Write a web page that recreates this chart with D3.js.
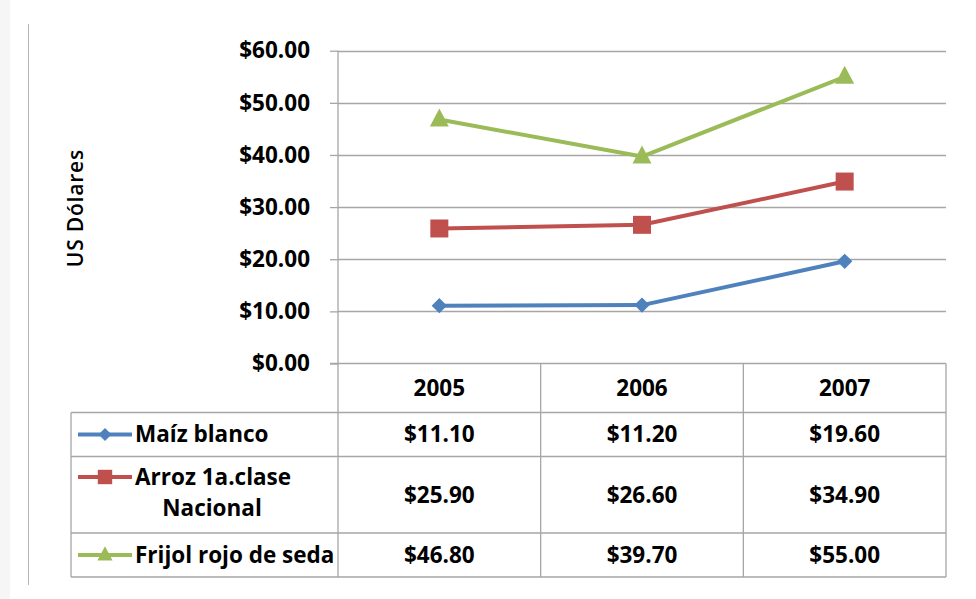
<!DOCTYPE html>
<html>
<head>
<meta charset="utf-8">
<script src="https://cdn.jsdelivr.net/npm/d3@7"></script>
<style>
  html, body { margin: 0; padding: 0; background: #fff; }
  svg { display: block; }
</style>
</head>
<body>
<svg id="chart" width="976" height="599"></svg>
<script>
// chart data
const years = ['2005', '2006', '2007'];
const seriesNames = [['Maíz blanco'], ['Arroz 1a.clase', 'Nacional'], ['Frijol rojo de seda']];
const maiz = [11.10, 11.20, 19.60];
const arroz = [25.90, 26.60, 34.90];
const frijol = [46.80, 39.70, 55.00];
const yTicks = [0, 10, 20, 30, 40, 50, 60];
const yTitle = 'US Dólares';

const FONT = '"Open Sans", "DejaVu Sans", sans-serif';
const FS = '22.5px';
const GRID = '#a6a6a6';
const series = [
  { names: seriesNames[0], values: maiz, color: '#4f81bd', shape: 'diamond' },
  { names: seriesNames[1], values: arroz, color: '#c0504d', shape: 'square' },
  { names: seriesNames[2], values: frijol, color: '#9bbb59', shape: 'triangle' },
];

const svg = d3.select('#chart');
const fmt = v => '$' + d3.format('.2f')(v);
const boldText = sel => sel.style('font-family', FONT).style('font-size', FS)
  .style('font-weight', 700).style('fill', '#000');

// plot geometry
const X0 = 338, X1 = 946, Y_TOP = 50.7, Y_BOT = 363.5;
const TABLE_LEFT = 71;
const rowEdges = [363.5, 412.5, 456.5, 533, 577];

const x = d3.scaleBand().domain(years).range([X0, X1]);
const y = d3.scaleLinear().domain([0, 60]).range([Y_BOT, Y_TOP]);

// page frame: faint strip and left rule
svg.append('rect').attr('x', 0).attr('y', 0).attr('width', 10).attr('height', 599)
  .style('fill', '#f6f6f6');
svg.append('line').attr('x1', 28.5).attr('x2', 28.5).attr('y1', 24).attr('y2', 585)
  .style('stroke', '#b4b4b4').style('stroke-width', 1);

// gridlines + y axis
const yAxis = d3.axisLeft(y).tickValues(yTicks).tickFormat(fmt).tickSize(8).tickPadding(20);
const gy = svg.append('g').attr('transform', `translate(${X0},0)`).call(yAxis);
gy.select('.domain').remove();
gy.selectAll('.tick line').style('stroke', GRID).style('stroke-width', 1.3);
gy.selectAll('.tick text').call(boldText);
svg.append('g').selectAll('line').data(yTicks.filter(t => t > 0)).join('line')
  .attr('x1', X0).attr('x2', X1)
  .attr('y1', d => Math.round(y(d)) + 0.5).attr('y2', d => Math.round(y(d)) + 0.5)
  .style('stroke', GRID).style('stroke-width', 1.3);

// axis title
svg.append('text')
  .attr('transform', `translate(83,${(Y_TOP + Y_BOT) / 2 + 1}) rotate(-90)`)
  .attr('text-anchor', 'middle')
  .style('font-family', FONT).style('font-size', '21px').style('font-weight', 600)
  .style('letter-spacing', '0.8px')
  .style('fill', '#000')
  .text(yTitle);

// data table grid
const tg = svg.append('g').style('stroke', GRID).style('stroke-width', 1.3);
tg.append('line').attr('x1', X0 - 8).attr('x2', X1).attr('y1', rowEdges[0]).attr('y2', rowEdges[0]);
rowEdges.slice(1).forEach(r => {
  tg.append('line').attr('x1', TABLE_LEFT).attr('x2', X1).attr('y1', r).attr('y2', r);
});
[X0, ...years.map(d => x(d) + x.bandwidth())].forEach(cx => {
  tg.append('line').attr('x1', cx).attr('x2', cx)
    .attr('y1', cx === X0 ? Y_TOP : rowEdges[0]).attr('y2', rowEdges[4]);
});
tg.append('line').attr('x1', TABLE_LEFT).attr('x2', TABLE_LEFT).attr('y1', rowEdges[1]).attr('y2', rowEdges[4]);

// header row (years)
svg.append('g').selectAll('text').data(years).join('text')
  .attr('x', d => x(d) + x.bandwidth() / 2)
  .attr('y', (rowEdges[0] + rowEdges[1]) / 2)
  .attr('text-anchor', 'middle').attr('dy', '0.35em')
  .call(boldText)
  .text(d => d);

// marker path helper
function markerPath(shape) {
  if (shape === 'diamond') return d3.symbol(d3.symbolDiamond2, 150)();
  if (shape === 'square') return 'M-9,-9H9V9H-9Z';
  return 'M0,-11L9.5,7L-9.5,7Z';
}

// series rows in table + lines in plot
const line = d3.line().x((d, i) => x(years[i]) + x.bandwidth() / 2).y(d => y(d));
series.forEach((s, si) => {
  const top = rowEdges[si + 1], bot = rowEdges[si + 2];
  const mid = (top + bot) / 2;

  // values
  svg.append('g').selectAll('text').data(s.values).join('text')
    .attr('x', (d, i) => x(years[i]) + x.bandwidth() / 2)
    .attr('y', mid)
    .attr('text-anchor', 'middle').attr('dy', '0.35em')
    .call(boldText)
    .text(fmt);

  // legend key
  const ly = s.names.length > 1 ? top + 20.5 : mid;
  svg.append('line').attr('x1', 78).attr('x2', 132).attr('y1', ly).attr('y2', ly)
    .style('stroke', s.color).style('stroke-width', 4);
  svg.append('path').attr('d', markerPath(s.shape))
    .attr('transform', `translate(105,${ly}) scale(${s.shape === 'diamond' ? 0.85 : 0.8})`)
    .style('fill', s.color);
  svg.append('text').attr('x', 135).attr('y', ly).attr('dy', '0.35em')
    .call(boldText)
    .text(s.names[0]);
  if (s.names.length > 1) {
    svg.append('text').attr('x', 212).attr('y', ly + 31).attr('dy', '0.35em')
      .attr('text-anchor', 'middle')
      .call(boldText)
      .text(s.names[1]);
  }

  // plot line + markers
  svg.append('path').datum(s.values).attr('d', line)
    .style('fill', 'none').style('stroke', s.color).style('stroke-width', 4)
    .style('stroke-linejoin', 'round');
  svg.append('g').selectAll('path').data(s.values).join('path')
    .attr('d', markerPath(s.shape))
    .attr('transform', (d, i) => `translate(${x(years[i]) + x.bandwidth() / 2},${y(d)})`)
    .style('fill', s.color);
});
</script>
</body>
</html>
